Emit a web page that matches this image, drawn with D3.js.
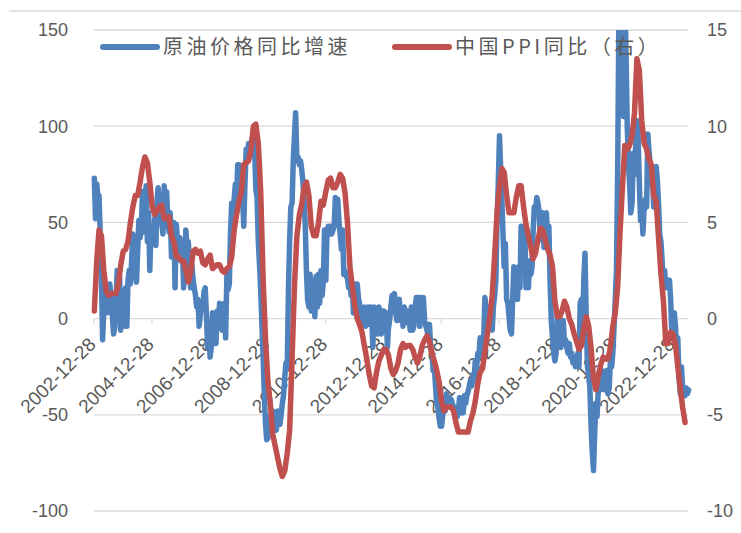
<!DOCTYPE html>
<html>
<head>
<meta charset="utf-8">
<script src="https://cdn.jsdelivr.net/npm/d3@7/dist/d3.min.js"></script>
<style>
  html, body { margin: 0; padding: 0; background: #fff; }
  svg text { font-family: "Liberation Sans", Arial, sans-serif; fill: #595959; }
</style>
</head>
<body>
<svg id="chart" width="741" height="533"></svg>
<script>
const seriesNames = ["原油价格同比增速", "中国PPI同比（右）"];
const tickLabels = ["2002-12-28", "2004-12-28", "2006-12-28", "2008-12-28", "2010-12-28", "2012-12-28",
    "2014-12-28", "2016-12-28", "2018-12-28", "2020-12-28", "2022-12-28"];
const leftTicks = [-100, -50, 0, 50, 100, 150];
const rightTicks = [-10, -5, 0, 5, 10, 15];

// oil price yoy (%), two readings a month from 2003-01
const oilYoy = [
    73, 52, 70, 62, 64, 45, 20, -11, 5, 16, 8, 3, 14, 18, 10, 2, -8, -5, 6, 25, 14, 22, -6, 8,
    -4, 12, 16, -4, 20, 25, 18, 30, 44, 38, 30, 19, 35, 51, 42, 47, 66, 45, 60, 69, 40, 55, 25, 45,
    48, 41, 52, 38, 60, 68, 55, 64, 50, 44, 69, 60, 66, 52, 45, 55, 32, 40, 50, 16, 49, 40, 36, 42,
    30, 38, 16, 28, 46, 37, 40, 30, 16, 28, 20, 16, 12, 6, 10, -4, 2, 8, 5, 14, 16, 2, -15, -5,
    -20, -15, 3, -8, 2, -13, 4, -5, 8, -3, -6, 6, 8, -10, 22, 15, 18, 45, 60, 55, 62, 70, 62, 80,
    80, 74, 66, 62, 48, 70, 88, 84, 91, 86, 90, 94, 96, 88, 67, 63, 40, 28, 15, -3, -20, -40, -55, -63,
    -62, -51, -56, -53, -48, -58, -55, -58, -48, -52, -55, -50, -44, -40, -30, -23, -25, 15, 40, 58, 60, 82, 95, 107,
    82, 84, 80, 82, 78, 72, 62, 49, 25, 10, 6, 23, 4, 20, 11, 1, 22, 6, 23, 8, 25, 12, 20, 46,
    20, 46, 48, 44, 48, 44, 46, 48, 63, 55, 62, 50, 44, 36, 46, 23, 25, 22, 21, 16, 20, 12, 16, 3,
    18, 10, 18, 11, 8, -1, 3, -4, 6, -4, -1, 6, -3, 6, 3, -15, 6, -4, 1, -8, 6, -2, -8, 4,
    4, -1, 3, -15, -5, -1, 6, 12, 10, 13, 3, -1, 3, 10, -1, 5, -4, 6, 3, -2, 4, 0, -6, 6,
    -6, -4, 6, 11, 9, 11, -4, 11, 4, 11, -1, -4, -6, -10, -3, -15, -18, -27, -25, -35, -44, -46, -52, -56,
    -56, -50, -44, -48, -39, -44, -41, -46, -42, -44, -48, -46, -50, -51, -48, -41, -49, -44, -49, -40, -44, -40, -38, -35,
    -32, -35, -29, -32, -22, -27, -18, -20, -10, -14, -18, -10, 11, 4, -4, -6, 6, -1, -6, 6, 12, 20, 51, 70,
    95, 77, 60, 42, 27, 39, 10, 8, 1, -6, -8, 10, 27, 20, 13, 10, 27, 16, 48, 35, 27, 48, 16, 23,
    16, 30, 23, 27, 45, 58, 56, 63, 60, 56, 41, 48, 55, 37, 45, 55, 41, 48, 20, -1, -10, -18, -22, -18,
    3, -1, -8, -15, -4, -1, -13, -11, -15, -18, -13, -20, -18, -23, -20, -25, -23, -18, -25, 8, 10, -5, 20, 34,
    -1, -25, -30, -36, -55, -69, -79, -60, -44, -51, -37, -27, -37, -27, -35, -37, -32, -27, -39, -36, -22, -25, -18, -5,
    10, 25, 80, 160, 190, 220, 200, 105, 170, 140, 100, 81, 70, 55, 60, 86, 75, 90, 103, 95, 70, 51, 58, 44,
    58, 62, 58, 96, 88, 81, 70, 75, 58, 62, 79, 72, 60, 44, 40, 30, 16, 25, 16, 20, 18, 20, 10, -8,
    -8, 3, -5, -18, -10, -30, -39, -25, -36, -38, -40, -36, -39, -37
];

// China PPI yoy (%), monthly from 2003-01
const ppiYoy = [
    0.4, 3.0, 4.6, 4.3, 2.5, 1.4, 1.2, 1.3, 1.3, 1.3, 1.8, 2.8,
    3.5, 3.6, 4.0, 5.0, 5.8, 6.4, 6.4, 7.1, 7.9, 8.4, 8.1, 7.1,
    5.8, 5.4, 5.6, 5.8, 5.9, 5.2, 5.2, 5.3, 4.3, 4.0, 3.2, 3.2,
    3.0, 3.0, 2.5, 1.9, 2.4, 3.5, 3.6, 3.4, 3.5, 2.9, 2.8, 3.1,
    3.3, 2.6, 2.7, 2.8, 2.8, 2.5, 2.4, 2.6, 2.7, 3.2, 4.6, 5.4,
    6.1, 6.6, 8.0, 8.1, 8.2, 8.8, 10.0, 10.1, 9.1, 6.6, 2.0, -1.1,
    -3.3, -4.5, -6.0, -6.6, -7.2, -7.8, -8.2, -7.9, -7.0, -5.8, -2.1, 1.7,
    4.3, 5.4, 5.9, 6.8, 7.1, 6.4, 4.8, 4.3, 4.3, 5.0, 6.1, 5.9,
    6.6, 7.2, 7.3, 6.8, 6.8, 7.1, 7.5, 7.3, 6.5, 5.0, 2.7, 1.7,
    0.7, 0.0, -0.3, -0.7, -1.4, -2.1, -2.9, -3.5, -3.6, -2.8, -2.2, -1.9,
    -1.6, -1.6, -1.9, -2.6, -2.9, -2.7, -2.3, -1.6, -1.3, -1.5, -1.4, -1.4,
    -1.6, -2.0, -2.3, -2.0, -1.4, -1.1, -0.9, -1.2, -1.8, -2.2, -2.7, -3.3,
    -4.3, -4.8, -4.6, -4.6, -4.6, -4.8, -5.4, -5.9, -5.9, -5.9, -5.9, -5.9,
    -5.3, -4.9, -4.3, -3.4, -2.8, -2.6, -1.7, -0.8, 0.1, 1.2, 3.3, 5.5,
    6.9, 7.8, 7.6, 6.4, 5.5, 5.5, 5.5, 6.3, 6.9, 6.9, 5.8, 4.9,
    4.3, 3.7, 3.1, 3.4, 4.1, 4.7, 4.6, 4.1, 3.6, 3.3, 2.7, 0.9,
    0.1, 0.1, 0.4, 0.9, 0.6, 0.0, -0.3, -0.8, -1.2, -1.6, -1.4, -0.5,
    0.1, -0.4, -1.5, -3.1, -3.7, -3.0, -2.4, -2.0, -2.1, -2.1, -1.5, -0.4,
    0.3, 1.7, 4.4, 6.8, 9.0, 8.8, 9.0, 9.5, 10.7, 13.5, 12.9, 10.3,
    9.1, 8.8, 8.3, 8.0, 6.4, 6.1, 4.2, 2.3, 0.9, -1.3, -1.3, -0.7,
    -0.8, -1.4, -2.5, -3.6, -4.6, -5.4
];

class DualAxisChart {

    constructor() {
        this.render();
    }

    render() {
        let svg = d3.select("#chart");
        let left = 94, right = 688, top = 30, bottom = 511;
        let parse = d3.timeParse("%Y-%m-%d");
        let grey = "#d9d9d9";

        let x = d3.scaleTime()
            .domain([parse("2002-12-28"), parse("2023-07-08")])
            .range([left, right]);
        let yL = d3.scaleLinear().domain([-100, 150]).range([bottom, top]);
        let yR = d3.scaleLinear().domain([-10, 15]).range([bottom, top]);

        // outer border top edge
        svg.append("line")
            .attr("x1", 9).attr("x2", 741).attr("y1", 11).attr("y2", 11)
            .attr("stroke", grey).attr("stroke-width", 1.3);

        svg.append("g").selectAll("line")
            .data(leftTicks)
            .enter().append("line")
            .attr("x1", left).attr("x2", right)
            .attr("y1", function(d) { return yL(d); })
            .attr("y2", function(d) { return yL(d); })
            .attr("stroke", grey).attr("stroke-width", 1.3);

        svg.append("g").selectAll("text")
            .data(leftTicks)
            .enter().append("text")
            .attr("x", 68)
            .attr("y", function(d) { return yL(d); })
            .attr("dy", "0.35em")
            .attr("text-anchor", "end")
            .style("font-size", "18px")
            .text(function(d) { return d; });

        svg.append("g").selectAll("text")
            .data(rightTicks)
            .enter().append("text")
            .attr("x", 707)
            .attr("y", function(d) { return yR(d); })
            .attr("dy", "0.35em")
            .style("font-size", "18px")
            .text(function(d) { return d; });

        // category ticks sit on the zero line
        let y0 = yL(0);
        let tickDates = tickLabels.map(parse);
        svg.append("g").selectAll("line")
            .data(tickDates)
            .enter().append("line")
            .attr("x1", function(d) { return x(d); })
            .attr("x2", function(d) { return x(d); })
            .attr("y1", y0).attr("y2", y0 + 5)
            .attr("stroke", grey).attr("stroke-width", 1.3);

        svg.append("g").selectAll("text")
            .data(tickLabels)
            .enter().append("text")
            .attr("transform", function(d) { return "translate(" + (x(parse(d)) + 3) + "," + (y0 + 27) + ") rotate(-45)"; })
            .attr("text-anchor", "end")
            .style("font-size", "19px")
            .text(function(d) { return d; });

        svg.append("clipPath").attr("id", "plotClip")
            .append("rect")
            .attr("x", 0).attr("y", top).attr("width", 741).attr("height", bottom - top);

        let oilData = oilYoy.map(function(v, i) {
            return { date: new Date(2003, Math.floor(i / 2), i % 2 ? 16 : 1), value: v };
        });
        let ppiData = ppiYoy.map(function(v, i) {
            return { date: new Date(2003, i, 1), value: v };
        });

        let oilLine = d3.line()
            .x(function(d) { return x(d.date); })
            .y(function(d) { return yL(d.value); });
        let ppiLine = d3.line()
            .x(function(d) { return x(d.date); })
            .y(function(d) { return yR(d.value); });

        let plot = svg.append("g").attr("clip-path", "url(#plotClip)");
        plot.append("path")
            .datum(oilData)
            .attr("d", oilLine)
            .attr("fill", "none")
            .attr("stroke", "#4f81bd")
            .attr("stroke-width", 5.5)
            .attr("stroke-linejoin", "round")
            .attr("stroke-linecap", "round");
        plot.append("path")
            .datum(ppiData)
            .attr("d", ppiLine)
            .attr("fill", "none")
            .attr("stroke", "#c0504d")
            .attr("stroke-width", 5.5)
            .attr("stroke-linejoin", "round")
            .attr("stroke-linecap", "round");

        // legend
        let legend = [
            { name: seriesNames[0], color: "#4f81bd", x: 103 },
            { name: seriesNames[1], color: "#c0504d", x: 395 }
        ];
        let item = svg.append("g").selectAll("g")
            .data(legend)
            .enter().append("g");
        item.append("line")
            .attr("x1", function(d) { return d.x; })
            .attr("x2", function(d) { return d.x + 54; })
            .attr("y1", 47).attr("y2", 47)
            .attr("stroke", function(d) { return d.color; })
            .attr("stroke-width", 6)
            .attr("stroke-linecap", "round");
        item.append("text")
            .attr("x", function(d) { return d.x + 60; })
            .attr("y", 47)
            .attr("dy", "0.36em")
            .style("font-family", "'Noto Sans CJK SC', sans-serif")
            .style("font-size", "20px")
            .style("letter-spacing", "3.5px")
            .text(function(d) { return d.name; });
    }

}

new DualAxisChart();
</script>
</body>
</html>
